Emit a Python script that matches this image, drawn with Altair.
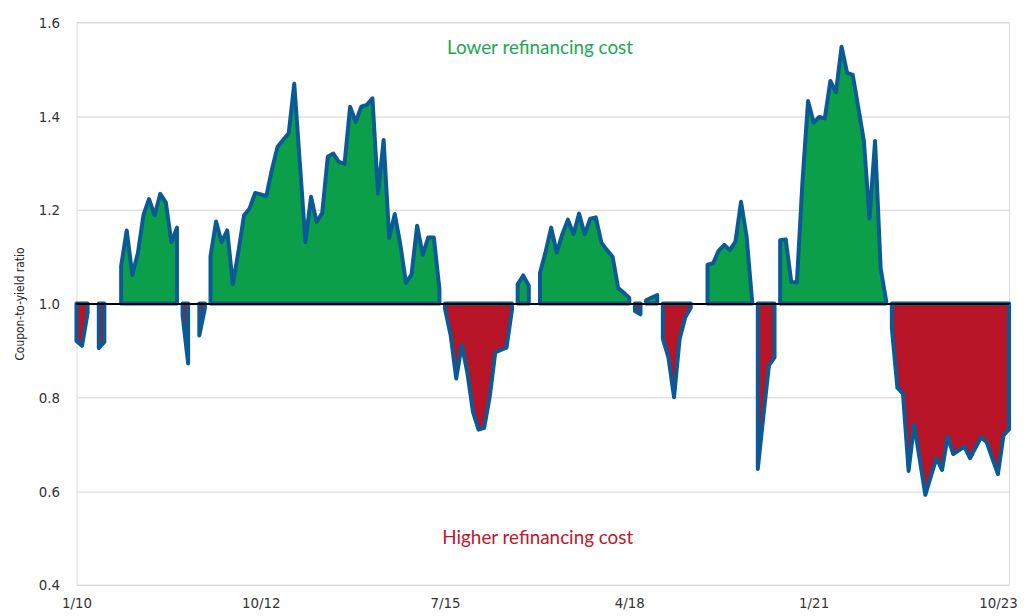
import altair as alt
import pandas as pd

# Monthly coupon-to-yield ratio, Jan 2010 (month 0) .. Dec 2023 (month 167); None = not shown
ratio = [
    0.92, 0.91, 0.98, None, 0.905, 0.918, None, None, 1.08, 1.156, 1.061, 1.108,      # 2010
    1.189, 1.223, 1.188, 1.234, 1.216, 1.131, 1.162, 0.975, 0.872, None, 0.932, 0.99,  # 2011
    1.101, 1.175, 1.131, 1.156, 1.041, 1.111, 1.188, 1.203, 1.236, 1.233, 1.229, 1.286,  # 2012
    1.334, 1.349, 1.363, 1.469, 1.30, 1.131, 1.228, 1.174, 1.193, 1.313, 1.320, 1.302,  # 2013
    1.298, 1.420, 1.387, 1.420, 1.424, 1.438, 1.235, 1.349, 1.140, 1.191, 1.126, 1.044,  # 2014
    1.062, 1.166, 1.104, 1.141, 1.141, 1.030, 0.988, 0.933, 0.840, 0.912, 0.852, 0.769,  # 2015
    0.731, 0.735, 0.801, 0.896, 0.901, 0.906, 0.988, 1.041, 1.060, 1.038, None, 1.065,  # 2016
    1.11, 1.162, 1.109, 1.148, 1.179, 1.148, 1.192, 1.148, 1.181, 1.184, 1.130, 1.114,  # 2017
    1.100, 1.033, 1.023, 1.012, 0.984, 0.977, 1.007, 1.013, 1.018, 0.925, 0.885, 0.800,  # 2018
    0.924, 0.970, 0.991, None, None, 1.083, 1.086, 1.113, 1.125, 1.114, 1.132, 1.217,  # 2019
    1.143, 1.003, 0.647, 0.76, 0.868, 0.885, 1.135, 1.137, 1.046, 1.045, 1.26, 1.432,  # 2020
    1.386, 1.398, 1.395, 1.475, 1.451, 1.548, 1.492, 1.488, 1.418, 1.347, 1.181, 1.347,  # 2021
    1.075, 1.005, 0.948, 0.820, 0.808, 0.643, 0.742, 0.667, 0.592, 0.632, 0.670, 0.645,  # 2022
    0.716, 0.679, 0.687, 0.695, 0.670, 0.693, 0.715, 0.704, 0.670, 0.636, 0.719, 0.732,  # 2023
]

tick_months = [0, 33, 66, 99, 132, 165]
tick_labels = ["1/10", "10/12", "7/15", "4/18", "1/21", "10/23"]
y_ticks = [0.4, 0.6, 0.8, 1.0, 1.2, 1.4, 1.6]
BASELINE = 1.0

notes = ["Lower refinancing cost", "Higher refinancing cost"]
note_month = [83, 82.6]
note_value = [1.545, 0.5]
note_kind = ["above", "below"]

GREEN = "#0b9f4a"
RED = "#b71427"
BLUE = "#0a5a96"
TEXT_GREEN = "#1ea656"
TEXT_RED = "#c0162c"

# build contiguous same-sign segments
rows = []
seg = 0
prev = None
for m, v in enumerate(ratio):
    if v is None:
        prev = None
        continue
    s = "above" if v >= BASELINE else "below"
    if s != prev:
        seg += 1
    prev = s
    rows.append({"m": m, "v": v, "seg": seg, "sign": s})
df = pd.DataFrame(rows)

notes_df = pd.DataFrame({"label": notes, "m": note_month, "v": note_value, "kind": note_kind})

label_expr = " : ".join(
    f"datum.value == {m} ? '{l}'" for m, l in zip(tick_months, tick_labels)
) + " : ''"

LABEL_FONT = "Liberation Sans Narrow, DejaVu Sans Condensed, sans-serif"

x_enc = alt.X(
    "m:Q",
    scale=alt.Scale(domain=[0, 167], nice=False, zero=False),
    axis=alt.Axis(
        values=tick_months, labelExpr=label_expr, title=None, grid=False,
        domain=False, ticks=False, labelPadding=11, labelFontSize=15,
        labelColor="#333333", labelFont=LABEL_FONT, labelFlush=False,
    ),
)
y_scale = alt.Scale(domain=[0.4, 1.6], nice=False, zero=False)

area = alt.Chart(df).mark_area(
    stroke=BLUE, strokeWidth=4, strokeJoin="round", interpolate="linear", opacity=1
).encode(
    x=x_enc,
    y=alt.Y(
        "v:Q", scale=y_scale, stack=False,
        axis=alt.Axis(
            values=y_ticks, format=".1f", grid=True, gridColor="#d3d3d3",
            gridWidth=1, domain=False, ticks=False, labelPadding=17,
            labelFontSize=15, labelColor="#333333", labelFont=LABEL_FONT,
            title="Coupon-to-yield ratio", titleFont=LABEL_FONT,
            titleFontSize=12, titleFontWeight="normal", titleColor="#222222",
            titlePadding=12,
        ),
    ),
    y2=alt.datum(BASELINE),
    color=alt.Color(
        "sign:N", scale=alt.Scale(domain=["above", "below"], range=[GREEN, RED]),
        legend=None,
    ),
    detail="seg:N",
)

base_rule = alt.Chart(df).mark_rule(color="#000000", strokeWidth=1.3).encode(
    y=alt.datum(BASELINE)
)

text = alt.Chart(notes_df).mark_text(fontSize=19, font="Lato", align="center", baseline="middle").encode(
    x=alt.X("m:Q"),
    y=alt.Y("v:Q"),
    text="label:N",
    color=alt.Color(
        "kind:N", scale=alt.Scale(domain=["above", "below"], range=[TEXT_GREEN, TEXT_RED]),
        legend=None,
    ),
)

chart = alt.layer(area, base_rule, text).resolve_scale(color="independent").properties(
    width=940, height=567,
    autosize=alt.AutoSizeParams(type="none"),
    padding={"left": 69, "top": 12, "right": 12, "bottom": 28},
).configure_view(stroke=None).configure(background="white")

chart.save("out.html", embed_options={"renderer": "svg", "actions": False})
